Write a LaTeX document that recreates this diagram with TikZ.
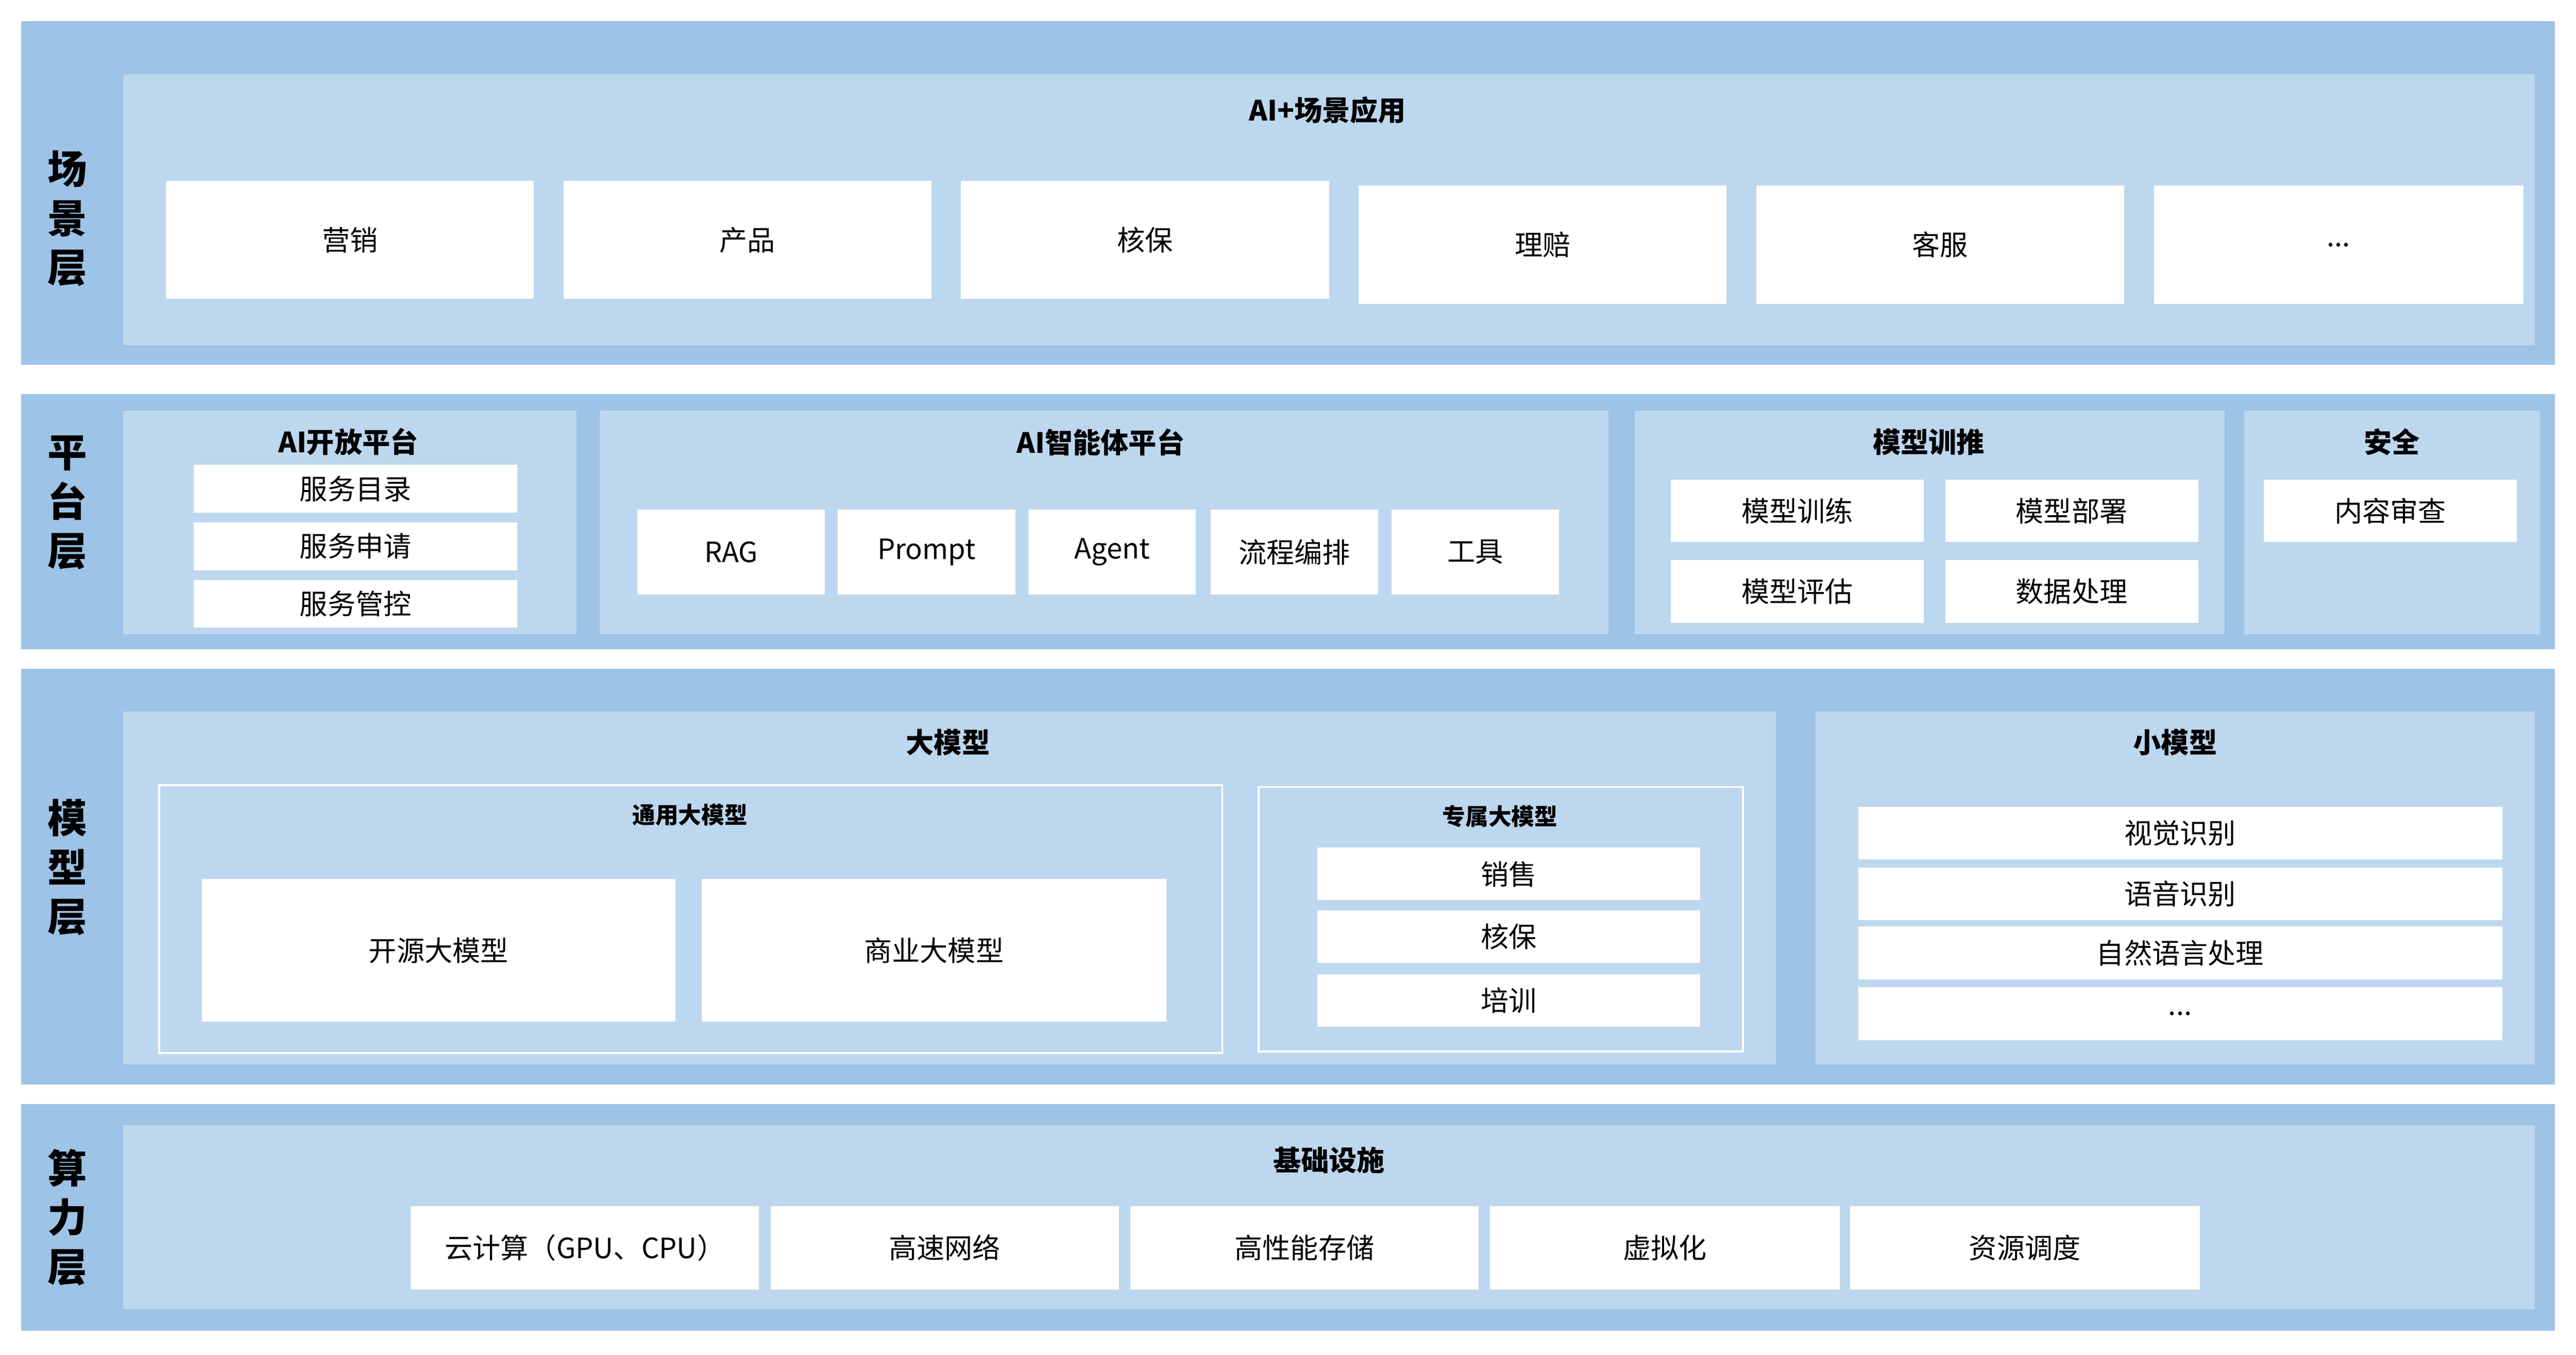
\documentclass[tikz,border=0pt]{standalone}
\usepackage{fontspec}
\setmainfont{Noto Sans CJK SC}
\begin{document}
\begin{tikzpicture}[x=1pt,y=1pt,
 outer/.style={fill=outerc,draw=none},
 inner/.style={fill=innerc,draw=none},
 wb/.style={fill=white,draw=none,font=\fontsize{17}{17}\selectfont},
 frame/.style={fill=none,draw=white,line width=1.2pt},
 ttl/.style={font=\bfseries\fontsize{17}{17}\selectfont},
 sttl/.style={font=\bfseries\fontsize{14}{14}\selectfont},
 lay/.style={font=\bfseries\fontsize{24}{30}\selectfont,align=center}]
\definecolor{outerc}{HTML}{9DC3E6}
\definecolor{innerc}{HTML}{BDD7EE}
\newcommand\R[7]{\node[#6,inner sep=0,minimum width={#4-#2},minimum height={#5-#3}] (#1) at ({(#2+#4)/2},{-(#3+#5)/2}) {#7};}
\useasboundingbox (0,0) rectangle (1568,-824.6);
\fill[white] (0,0) rectangle (1568,-824.6);
% scene layer
\R{L1}{13}{13}{1555}{222}{outer}{}
\R{L1i}{75}{45}{1543}{210}{inner}{}
\node[lay] (l1t) at (41,-133) {场\\景\\层};
\node[ttl] (t1) at (808,-67) {AI+场景应用};
\R{s1}{101}{110}{325}{182}{wb}{营销}
\R{s2}{343}{110}{567}{182}{wb}{产品}
\R{s3}{585}{110}{809}{182}{wb}{核保}
\R{s4}{827}{113}{1051}{185}{wb}{理赔}
\R{s5}{1069}{113}{1293}{185}{wb}{客服}
\R{s6}{1311}{113}{1536}{185}{wb}{...}
% platform layer
\R{L2}{13}{240}{1555}{395}{outer}{}
\node[lay] (l2t) at (41,-306) {平\\台\\层};
\R{p1}{75}{250}{351}{386}{inner}{}
\node[ttl] at (212,-269) {AI开放平台};
\R{p11}{118}{283}{315}{312}{wb}{服务目录}
\R{p12}{118}{318}{315}{347}{wb}{服务申请}
\R{p13}{118}{353}{315}{382}{wb}{服务管控}
\R{p2}{365}{250}{979}{386}{inner}{}
\node[ttl] at (670,-269) {AI智能体平台};
\R{p21}{388}{310}{502}{362}{wb}{RAG}
\R{p22}{510}{310}{618}{362}{wb}{Prompt}
\R{p23}{626}{310}{728}{362}{wb}{Agent}
\R{p24}{737}{310}{839}{362}{wb}{流程编排}
\R{p25}{847}{310}{949}{362}{wb}{工具}
\R{p3}{995}{250}{1354}{386}{inner}{}
\node[ttl] at (1174,-269) {模型训推};
\R{p31}{1017}{292}{1171}{330}{wb}{模型训练}
\R{p32}{1184}{292}{1338}{330}{wb}{模型部署}
\R{p33}{1017}{341}{1171}{379}{wb}{模型评估}
\R{p34}{1184}{341}{1338}{379}{wb}{数据处理}
\R{p4}{1366}{250}{1546}{386}{inner}{}
\node[ttl] at (1456,-269) {安全};
\R{p41}{1378}{292}{1532}{330}{wb}{内容审查}
% model layer
\R{L3}{13}{407}{1555}{660}{outer}{}
\node[lay] (l3t) at (41,-528) {模\\型\\层};
\R{m1}{75}{433}{1081}{648}{inner}{}
\node[ttl] at (577,-452) {大模型};
\R{m11}{97}{478}{744}{641}{frame}{}
\node[sttl] at (420,-496) {通用大模型};
\R{m111}{123}{535}{411}{622}{wb}{开源大模型}
\R{m112}{427}{535}{710}{622}{wb}{商业大模型}
\R{m12}{766}{479}{1061}{640}{frame}{}
\node[sttl] at (913,-497) {专属大模型};
\R{m121}{802}{516}{1035}{548}{wb}{销售}
\R{m122}{802}{554}{1035}{586}{wb}{核保}
\R{m123}{802}{593}{1035}{625}{wb}{培训}
\R{m2}{1105}{433}{1543}{648}{inner}{}
\node[ttl] at (1324,-452) {小模型};
\R{m21}{1131}{491}{1523}{523}{wb}{视觉识别}
\R{m22}{1131}{528}{1523}{560}{wb}{语音识别}
\R{m23}{1131}{564}{1523}{596}{wb}{自然语言处理}
\R{m24}{1131}{601}{1523}{633}{wb}{...}
% compute layer
\R{L4}{13}{672}{1555}{810}{outer}{}
\node[lay] (l4t) at (41,-741) {算\\力\\层};
\R{c0}{75}{685}{1543}{797}{inner}{}
\node[ttl] at (809,-706) {基础设施};
\R{c1}{250}{734}{462}{785}{wb}{云计算（GPU、CPU）}
\R{c2}{469}{734}{681}{785}{wb}{高速网络}
\R{c3}{688}{734}{900}{785}{wb}{高性能存储}
\R{c4}{907}{734}{1120}{785}{wb}{虚拟化}
\R{c5}{1126}{734}{1339}{785}{wb}{资源调度}
\end{tikzpicture}
\end{document}
